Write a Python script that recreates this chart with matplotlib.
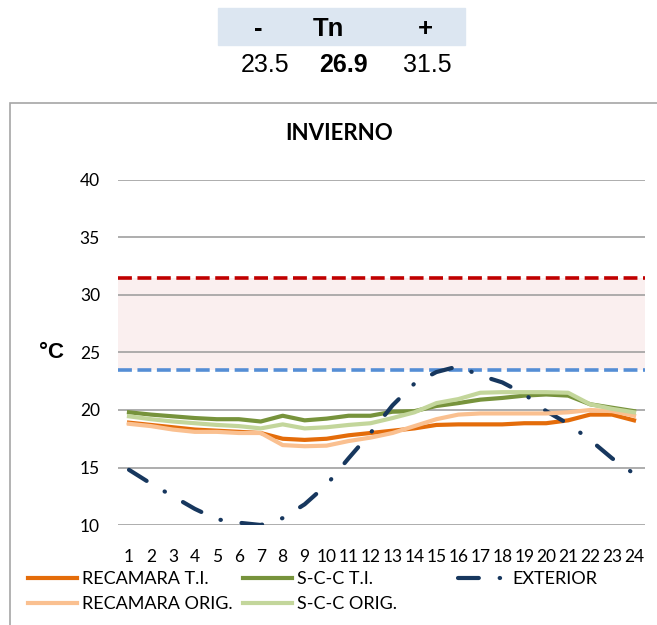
import matplotlib
matplotlib.use("Agg")
import matplotlib.pyplot as plt
from matplotlib.patches import Rectangle

# hours
hours = list(range(1, 25))

# temperatures
recamara_ti = [18.9, 18.7, 18.5, 18.3, 18.2, 18.1, 18.0, 17.5, 17.4, 17.5, 17.8, 18.0,
               18.2, 18.4, 18.7, 18.75, 18.75, 18.75, 18.85, 18.85, 19.1, 19.6, 19.6, 19.1]
scc_ti = [19.8, 19.6, 19.45, 19.3, 19.2, 19.2, 19.0, 19.5, 19.1, 19.25, 19.5, 19.5,
          19.85, 19.9, 20.35, 20.6, 20.9, 21.05, 21.25, 21.35, 21.25, 20.5, 20.2, 19.9]
exterior = [14.8, 13.6, 12.5, 11.4, 10.5, 10.2, 10.0, 10.6, 11.8, 13.5, 15.8, 18.0,
            20.4, 22.3, 23.3, 23.8, 23.0, 22.4, 21.4, 19.9, 18.8, 17.4, 15.8, 14.45]
recamara_orig = [18.8, 18.6, 18.3, 18.1, 18.1, 18.0, 18.0, 16.95, 16.85, 16.9, 17.3, 17.6,
                 18.0, 18.6, 19.2, 19.6, 19.7, 19.7, 19.7, 19.7, 19.8, 20.0, 19.9, 19.5]
scc_orig = [19.45, 19.2, 19.0, 18.85, 18.7, 18.6, 18.4, 18.75, 18.4, 18.5, 18.7, 18.85,
            19.3, 19.8, 20.6, 20.95, 21.5, 21.55, 21.55, 21.55, 21.5, 20.5, 20.1, 19.8]

# comfort band
t_low, t_neutral, t_high = 23.5, 26.9, 31.5
yticks = [10, 15, 20, 25, 30, 35, 40]

plt.rcParams['font.family'] = ['Lato', 'DejaVu Sans']
plt.rcParams['lines.scale_dashes'] = False

W, H = 657, 625
fig = plt.figure(figsize=(W / 100, H / 100), dpi=100)

# summary table on top
fig.patches.append(Rectangle((218 / W, 1 - 45 / H), 247 / W, 37 / H,
                             transform=fig.transFigure, color='#DCE6F1', zorder=0))
heads = [(258, '-'), (328, 'Tn'), (425, '+')]
vals = [(265, t_low, False), (343, t_neutral, True), (427, t_high, False)]
for xc, head in heads:
    fig.text(xc / W, 1 - 29 / H, head, ha='center', va='center', fontsize=18.5,
             fontweight='bold', family='Liberation Sans')
for xc, val, bold in vals:
    fig.text(xc / W, 1 - 65 / H, f'{val:.1f}', ha='center', va='center', fontsize=18,
             fontweight='bold' if bold else 'normal', family='Liberation Sans')

# chart frame
fig.patches.append(Rectangle((10 / W, -0.2), 1.2, 1.2 - 103 / H,
                             transform=fig.transFigure, fill=False,
                             edgecolor='#A6A6A6', linewidth=1.2))

ax = fig.add_axes([118 / W, 1 - 525 / H, 527 / W, 345 / H])
ax.axhspan(t_low, t_high, color='#FAEFEF', zorder=0.3, lw=0)
ax.set_axisbelow(True)
ax.yaxis.grid(True, color='#A0A0A0', linewidth=1.2)

ax.axhline(t_high, color='#C00000', linewidth=2.6, dashes=(10, 4), zorder=1)
ax.axhline(t_low, color='#558ED5', linewidth=2.6, dashes=(10, 4), zorder=1)

l_rt, = ax.plot(hours, recamara_ti, color='#E46C0A', lw=3, zorder=2, label='RECAMARA T.I.')
l_st, = ax.plot(hours, scc_ti, color='#77933C', lw=3, zorder=3, label='S-C-C T.I.')
l_ex, = ax.plot(hours, exterior, color='#17375E', lw=3, zorder=4, label='EXTERIOR',
                dashes=(15, 15, 0.3, 15), dash_capstyle='round')
l_ro, = ax.plot(hours, recamara_orig, color='#FAC090', lw=3, zorder=5, label='RECAMARA ORIG.')
l_so, = ax.plot(hours, scc_orig, color='#C3D69B', lw=3, zorder=6, label='S-C-C ORIG.')

ax.set_xlim(0.5, 24.5)
ax.set_ylim(10, 40)
ax.set_yticks(yticks)
ax.set_xticks(hours)
ax.tick_params(axis='both', length=0, labelsize=12.5)
ax.tick_params(axis='x', pad=17)
ax.tick_params(axis='y', pad=13)
for s in ax.spines.values():
    s.set_visible(False)

# title is centred on the whole chart frame, not the plot area
fig.text(339 / W, 1 - 133 / H, 'INVIERNO', ha='center', va='center', fontsize=16,
         fontweight='bold')
fig.text(52 / W, 1 - 352 / H, '°C', ha='center', va='center', fontsize=16,
         fontweight='bold', family='Liberation Sans')

# legend in three columns like the original
cols = [([l_rt, l_ro], 28), ([l_st, l_so], 243), ([l_ex], 458)]
for handles, x0 in cols:
    fig.legend(handles=handles, loc='upper left', bbox_to_anchor=(x0 / W, 1 - 571 / H),
               frameon=False, fontsize=13, handlelength=2.7, handletextpad=0.3,
               borderpad=0, borderaxespad=0, labelspacing=0.5)

plt.savefig('out.png', dpi=100)
